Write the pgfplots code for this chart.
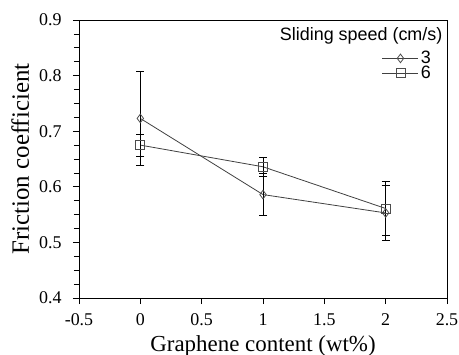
\documentclass[border=0pt]{standalone}
\usepackage{fontspec}
\setmainfont{Liberation Serif}
\setsansfont{Liberation Sans}
\usepackage{pgfplots}
\pgfplotsset{compat=1.18}
\begin{document}
\begin{tikzpicture}
\begin{axis}[
  at={(0,0)}, anchor=south west,
  scale only axis, width=368bp, height=278bp,
  xmin=-0.5, xmax=2.5, ymin=0.4, ymax=0.9,
  xtick={-0.5,0,0.5,1,1.5,2,2.5},
  ytick={0.4,0.5,0.6,0.7,0.8,0.9},
  minor y tick num=3,
  yticklabel style={/pgf/number format/fixed,/pgf/number format/fixed zerofill,/pgf/number format/precision=1, xshift=-8bp},
  /pgf/number format/assume math mode=true,
  tick label style={font=\fontsize{18}{20}\selectfont, black},
  xticklabel style={yshift=-6bp},
  tick align=outside, xtick pos=lower, ytick pos=left,
  major tick length=6bp, minor tick length=5bp,
  tick style={black, line width=0.8pt},
  axis line style={black, line width=0.9pt},
  xlabel={Graphene content (wt\%)},
  ylabel={Friction coefficient},
  xlabel style={font=\fontsize{23}{26}\selectfont, yshift=-3bp},
  ylabel style={font=\fontsize{25}{28}\selectfont, yshift=3bp},
  clip=false,
  legend style={draw=none, fill=none, font=\sffamily\fontsize{18}{20}\selectfont,
    at={(rel axis cs:0.962,0.895)}, anchor=north east, row sep=-3bp,
    inner sep=0pt},
  legend cell align=left,
  legend image code/.code={\draw[mark repeat=2,mark phase=2,#1] plot coordinates {(0bp,0bp) (18bp,0bp) (36bp,0bp)};},
]
\addplot[color=black!75, line width=0.8pt, mark=diamond, mark size=4.3bp,
  mark options={solid, fill=white, draw=black!70},
  error bars/.cd, y dir=both, y explicit,
  error bar style={black, line width=0.8pt},
  error mark options={rotate=90, mark size=4bp, black, line width=0.8pt}]
  coordinates {
  (0,0.723) +- (0,0.085)
  (1,0.586) +- (0,0.038)
  (2,0.553) +- (0,0.050)
};
\addlegendentry{3}
\addplot[color=black!75, line width=0.8pt, mark=square, mark size=4.5bp,
  mark options={solid, fill=none, draw=black!70},
  error bars/.cd, y dir=both, y explicit,
  error bar style={black, line width=0.8pt},
  error mark options={rotate=90, mark size=4bp, black, line width=0.8pt}]
  coordinates {
  (0,0.675) +- (0,0.020)
  (1,0.636) +- (0,0.017)
  (2,0.561) +- (0,0.048)
};
\addlegendentry{6}
\node[anchor=north east, font=\sffamily\fontsize{18}{20}\selectfont, inner sep=0pt]
  at (rel axis cs:0.988,0.975) {Sliding speed (cm/s)};
\end{axis}
\pgfresetboundingbox
\path (-79bp,-57bp) rectangle (380bp,298bp);
\end{tikzpicture}
\end{document}
